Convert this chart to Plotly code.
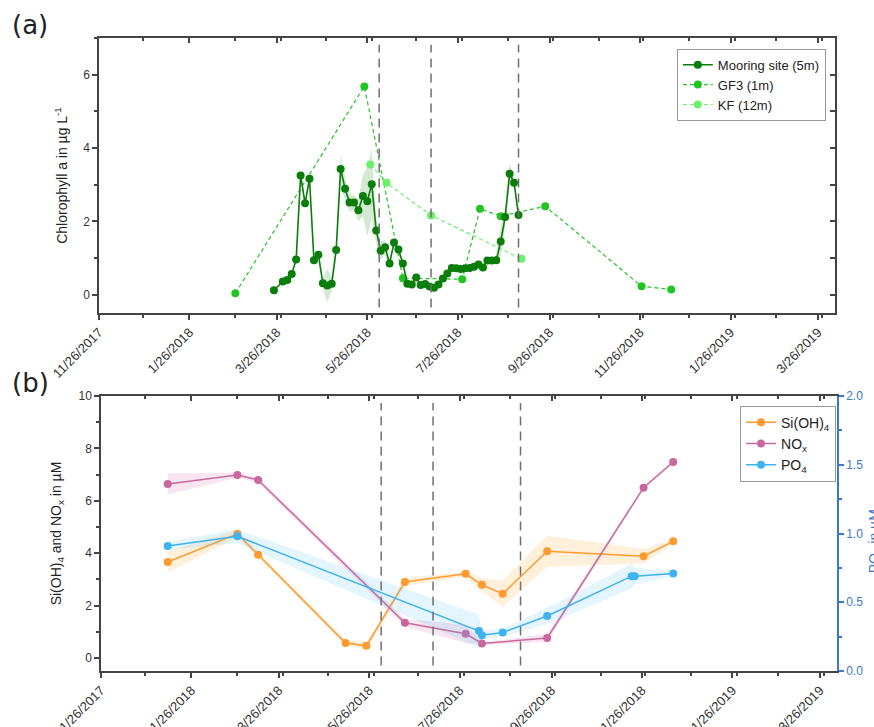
import plotly.graph_objects as go

# ---------------- data: panel (a) ----------------
mooring_dates = ["2018-03-24", "2018-03-30",
                 "2018-04-02", "2018-04-05", "2018-04-08", "2018-04-11", "2018-04-14",
                 "2018-04-17", "2018-04-20", "2018-04-23", "2018-04-26", "2018-04-29",
                 "2018-05-02", "2018-05-05", "2018-05-08", "2018-05-11", "2018-05-14",
                 "2018-05-17", "2018-05-20", "2018-05-23", "2018-05-26", "2018-05-29",
                 "2018-06-01", "2018-06-04", "2018-06-07", "2018-06-10", "2018-06-13",
                 "2018-06-16", "2018-06-19", "2018-06-22", "2018-06-25", "2018-06-28",
                 "2018-07-01", "2018-07-04", "2018-07-07", "2018-07-10", "2018-07-13",
                 "2018-07-16", "2018-07-19", "2018-07-22", "2018-07-25", "2018-07-28",
                 "2018-07-31", "2018-08-03", "2018-08-06", "2018-08-09", "2018-08-12",
                 "2018-08-15", "2018-08-18", "2018-08-21", "2018-08-24", "2018-08-27",
                 "2018-08-30", "2018-09-02", "2018-09-05"]
mooring_chl = [0.12, 0.36,
               0.40, 0.56, 0.96, 3.25, 2.49, 3.16, 0.94, 1.09, 0.31, 0.25,
               0.30, 1.22, 3.43, 2.89, 2.51, 2.51, 2.30, 2.69, 2.55, 3.01,
               1.75, 1.20, 1.29, 0.85, 1.42, 1.23, 0.85, 0.30, 0.28, 0.47,
               0.26, 0.29, 0.22, 0.19, 0.28, 0.44, 0.58, 0.73, 0.72, 0.70, 0.72,
               0.73, 0.76, 0.82, 0.74, 0.93, 0.93, 0.94, 1.45, 2.12, 3.30,
               3.05, 2.17]
mooring_err = [0.03, 0.03,
               0.03, 0.05, 0.08, 0.10, 0.10, 0.10, 0.06, 0.10, 0.15, 0.45,
               0.20, 0.15, 0.40, 0.30, 0.25, 0.20, 0.30, 0.55, 0.95, 0.95,
               0.35, 0.25, 0.20, 0.10, 0.10, 0.10, 0.06, 0.05, 0.04, 0.04,
               0.04, 0.04, 0.04, 0.04, 0.04, 0.04, 0.04, 0.04, 0.04, 0.04, 0.04,
               0.04, 0.04, 0.04, 0.04, 0.04, 0.05, 0.10, 0.40, 0.25, 0.30,
               0.10, 0.05]

gf3_dates = ["2018-02-26", "2018-05-24", "2018-06-19", "2018-07-29", "2018-08-10",
             "2018-08-24", "2018-09-23", "2018-11-27", "2018-12-17"]
gf3_chl = [0.04, 5.68, 0.45, 0.42, 2.34, 2.14, 2.41, 0.23, 0.14]

kf_dates = ["2018-05-28", "2018-06-08", "2018-07-08", "2018-09-07"]
kf_chl = [3.55, 3.05, 2.16, 0.98]

# ---------------- data: panel (b) ----------------
si_dates = ["2018-01-10", "2018-02-26", "2018-03-12", "2018-05-10", "2018-05-24", "2018-06-19",
            "2018-07-30", "2018-08-10", "2018-08-24", "2018-09-23", "2018-11-27", "2018-12-17"]
si_vals = [3.66, 4.74, 3.94, 0.57, 0.46, 2.90, 3.21, 2.79, 2.45, 4.07, 3.88, 4.45]
si_err = [0.40, 0.15, 0.10, 0.12, 0.15, 0.15, 0.10, 0.25, 0.50, 0.60, 0.28, 0.10]

nox_dates = ["2018-01-10", "2018-02-26", "2018-03-12", "2018-06-19", "2018-07-30",
             "2018-08-10", "2018-09-23", "2018-11-27", "2018-12-17"]
nox_vals = [6.64, 6.98, 6.79, 1.34, 0.92, 0.55, 0.76, 6.50, 7.48]
nox_err = [0.40, 0.10, 0.10, 0.15, 0.35, 0.05, 0.15, 0.05, 0.05]

po4_dates = ["2018-01-10", "2018-02-26", "2018-08-08", "2018-08-10", "2018-08-24",
             "2018-09-23", "2018-11-19", "2018-11-21", "2018-12-17"]
po4_vals = [0.91, 0.98, 0.29, 0.26, 0.28, 0.40, 0.69, 0.69, 0.71]
po4_err = [0.03, 0.05, 0.12, 0.03, 0.03, 0.06, 0.09, 0.06, 0.02]

event_dates = ["2018-06-03", "2018-07-08", "2018-09-05"]

x_range = ["2017-11-26", "2019-04-06 12:00"]

# ---------------- styles ----------------
FONT = "Liberation Sans, Arial, sans-serif"
AX = "#444444"
C_MOOR = "#0b7d0b"
C_GF3 = "#22c422"
C_KF = "#6cf06c"
C_SI = "#ff9a2e"
C_NOX = "#c9689c"
C_PO4 = "#3fb2ef"
C_RAX = "#3b78c6"

fig = go.Figure()


def band(x, y, e, color, xa, ya):
    up = [v + d for v, d in zip(y, e)]
    lo = [v - d for v, d in zip(y, e)]
    fig.add_trace(go.Scatter(x=list(x) + list(x)[::-1], y=up + lo[::-1],
                             fill="toself", fillcolor=color, line=dict(width=0),
                             mode="lines", hoverinfo="skip", showlegend=False,
                             xaxis=xa, yaxis=ya))


# panel (a)
band(mooring_dates, mooring_chl, mooring_err, "rgba(40,150,40,0.20)", "x", "y")
fig.add_trace(go.Scatter(x=gf3_dates, y=gf3_chl, name="GF3 (1m)", mode="lines+markers",
                         line=dict(color=C_GF3, width=1.2, dash="4px,3px"),
                         marker=dict(color=C_GF3, size=8), legend="legend",
                         xaxis="x", yaxis="y", legendrank=2))
fig.add_trace(go.Scatter(x=kf_dates, y=kf_chl, name="KF (12m)", mode="lines+markers",
                         line=dict(color=C_KF, width=1.2, dash="4px,3px"),
                         marker=dict(color=C_KF, size=8), legend="legend",
                         xaxis="x", yaxis="y", legendrank=3))
fig.add_trace(go.Scatter(x=mooring_dates, y=mooring_chl, name="Mooring site (5m)",
                         mode="lines+markers",
                         line=dict(color=C_MOOR, width=1.6),
                         marker=dict(color=C_MOOR, size=8), legend="legend",
                         xaxis="x", yaxis="y", legendrank=1))

# panel (b)
band(si_dates, si_vals, si_err, "rgba(255,170,60,0.18)", "x2", "y2")
band(nox_dates, nox_vals, nox_err, "rgba(210,110,170,0.18)", "x2", "y2")
band(po4_dates, po4_vals, po4_err, "rgba(90,190,245,0.16)", "x2", "y3")
fig.add_trace(go.Scatter(x=si_dates, y=si_vals, name="Si(OH)<sub>4</sub>", mode="lines+markers",
                         line=dict(color=C_SI, width=1.5), marker=dict(color=C_SI, size=8),
                         legend="legend2", xaxis="x2", yaxis="y2"))
fig.add_trace(go.Scatter(x=nox_dates, y=nox_vals, name="NO<sub>x</sub>", mode="lines+markers",
                         line=dict(color=C_NOX, width=1.5), marker=dict(color=C_NOX, size=8),
                         legend="legend2", xaxis="x2", yaxis="y2"))
fig.add_trace(go.Scatter(x=po4_dates, y=po4_vals, name="PO<sub>4</sub>", mode="lines+markers",
                         line=dict(color=C_PO4, width=1.5), marker=dict(color=C_PO4, size=8),
                         legend="legend2", xaxis="x2", yaxis="y3"))

# invisible traces so that the inside-tick overlay axes get drawn
for xa, ya in [("x3", "y"), ("x", "y4"), ("x4", "y2")]:
    fig.add_trace(go.Scatter(x=[x_range[0]], y=[0], mode="markers",
                             marker=dict(opacity=0), hoverinfo="skip", showlegend=False,
                             xaxis=xa, yaxis=ya))

# dashed event lines
for d in event_dates:
    for xr, yr in [("x", "y domain"), ("x2", "y2 domain")]:
        fig.add_shape(type="line", xref=xr, yref=yr, x0=d, x1=d, y0=0.02, y1=0.975,
                      line=dict(color="#707070", width=1.5, dash="9px,6px"))

tickfont = dict(family=FONT, size=12, color="#333333")
datefont = dict(family=FONT, size=13, color="#333333")
date_axis = dict(type="date", range=x_range, tick0="2017-11-26", dtick="M2",
                 tickformat="%-m/%-d/%Y", tickangle=-45, tickfont=datefont,
                 showline=True, linecolor=AX, linewidth=1.5, mirror=True,
                 ticks="outside", ticklen=5, tickwidth=1.5, tickcolor=AX,
                 minor=dict(dtick="M1", tick0="2017-11-26", ticks="outside",
                            ticklen=3, tickwidth=1.5, tickcolor=AX),
                 showgrid=False, zeroline=False, automargin=False)
top_axis = dict(type="date", range=x_range, tick0="2017-11-26", dtick="M2",
                side="top", showticklabels=False, showline=False,
                ticks="inside", ticklen=5, tickwidth=1.5, tickcolor=AX,
                minor=dict(dtick="M1", tick0="2017-11-26", ticks="inside",
                           ticklen=3, tickwidth=1.5, tickcolor=AX),
                showgrid=False, zeroline=False, automargin=False)

fig.update_layout(
    width=874, height=727,
    paper_bgcolor="white", plot_bgcolor="white",
    margin=dict(l=99, r=37, t=38, b=56, autoexpand=False),
    font=dict(family=FONT, size=12, color="#222222"),
    xaxis=dict(date_axis, domain=[0, 0.9973], anchor="y"),
    xaxis3=dict(top_axis, overlaying="x", anchor="y"),
    yaxis=dict(domain=[0.5656, 1.0], anchor="x", range=[-0.5, 7], dtick=2, tick0=0,
               tickfont=tickfont, showline=True, linecolor=AX, linewidth=1.5, mirror=True,
               ticks="outside", ticklen=5, tickwidth=1.5, tickcolor=AX,
               minor=dict(dtick=1, ticks="outside", ticklen=3, tickwidth=1.5, tickcolor=AX),
               showgrid=False, zeroline=False, automargin=False,
               title=dict(text="Chlorophyll a in µg L<sup>-1</sup>",
                          font=dict(family=FONT, size=14, color="#222222"), standoff=12)),
    yaxis4=dict(range=[-0.5, 7], dtick=1, tick0=0, overlaying="y", side="right", anchor="x",
                showticklabels=False, showline=False, ticks="inside", ticklen=5,
                tickwidth=1.5, tickcolor=AX, showgrid=False, zeroline=False,
                automargin=False),
    xaxis2=dict(date_axis, domain=[0.0027, 1.0], anchor="y2"),
    xaxis4=dict(top_axis, overlaying="x2", anchor="y2"),
    yaxis2=dict(domain=[0, 0.4344], anchor="x2", range=[-0.5, 10], dtick=2, tick0=0,
                tickfont=tickfont, showline=True, linecolor=AX, linewidth=1.5,
                ticks="outside", ticklen=5, tickwidth=1.5, tickcolor=AX,
                minor=dict(dtick=1, ticks="outside", ticklen=3, tickwidth=1.5, tickcolor=AX),
                showgrid=False, zeroline=False, automargin=False,
                title=dict(text="Si(OH)<sub>4</sub> and NO<sub>x</sub> in µM",
                           font=dict(family=FONT, size=14, color="#222222"), standoff=14)),
    yaxis3=dict(overlaying="y2", side="right", anchor="x2", range=[0, 2], dtick=0.5, tick0=0,
                tickformat=".1f", tickfont=dict(family=FONT, size=12, color=C_RAX),
                showline=True, linecolor=C_RAX, linewidth=1.5,
                ticks="outside", ticklen=5, tickwidth=1.5, tickcolor=C_RAX,
                minor=dict(dtick=0.25, ticks="outside", ticklen=3, tickwidth=1.5,
                           tickcolor=C_RAX),
                showgrid=False, zeroline=False, automargin=False),
    legend=dict(x=0.783, y=0.983, xanchor="left", yanchor="top",
                bgcolor="white", bordercolor="#999999", borderwidth=1,
                font=dict(family=FONT, size=13, color="#222222"),
                tracegroupgap=0, itemwidth=30),
    legend2=dict(x=0.8686, y=0.419, xanchor="left", yanchor="top",
                 bgcolor="white", bordercolor="#999999", borderwidth=1,
                 font=dict(family=FONT, size=14, color="#222222"),
                 tracegroupgap=0, itemwidth=30),
    showlegend=True,
)

fig.add_annotation(text="(a)", xref="paper", yref="paper", x=-0.12, y=1.021,
                   xanchor="left", yanchor="middle", showarrow=False,
                   font=dict(family="DejaVu Sans", size=26, color="#222222"))
fig.add_annotation(text="(b)", xref="paper", yref="paper", x=-0.12, y=0.455,
                   xanchor="left", yanchor="middle", showarrow=False,
                   font=dict(family="DejaVu Sans", size=26, color="#222222"))
fig.add_annotation(text="PO<sub>4</sub> in µM", xref="paper", yref="paper",
                   x=1.0515, y=0.205, xanchor="center", yanchor="middle",
                   textangle=-90, showarrow=False,
                   font=dict(family=FONT, size=14, color=C_RAX))

fig.write_html("out.html", config={"displayModeBar": False},
               post_script="document.body.style.margin='0';document.body.style.padding='0';")
